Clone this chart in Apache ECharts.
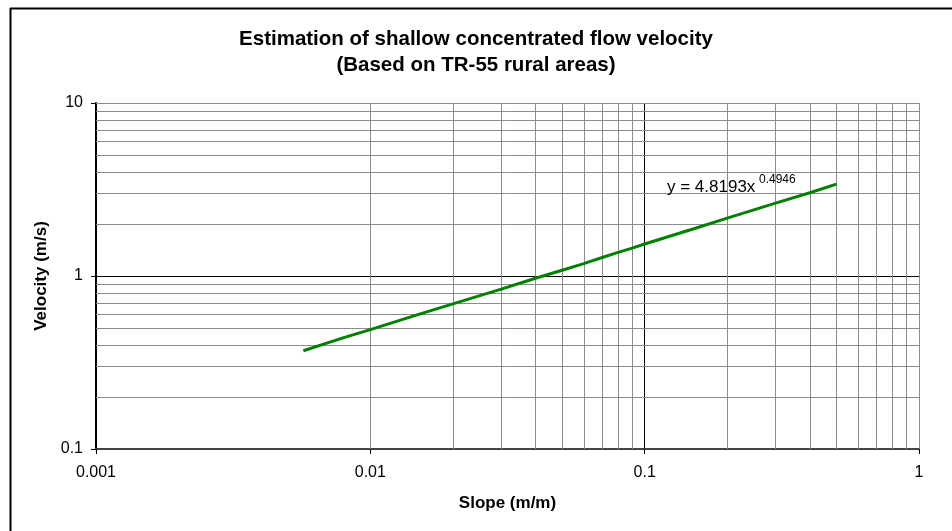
<!DOCTYPE html>
<html>
<head>
<meta charset="utf-8">
<script src="https://cdn.jsdelivr.net/npm/echarts@6/dist/echarts.min.js"></script>
<style>html,body{margin:0;padding:0;background:#fff}#c{width:952px;height:531px}</style>
</head>
<body>
<div id="c"></div>
<script>
var slopeValues = [0.0057, 0.008, 0.01, 0.015, 0.02, 0.03, 0.04, 0.05, 0.06, 0.07, 0.08, 0.09, 0.1, 0.15, 0.2, 0.3, 0.4, 0.5];
var velocityValues = [0.37, 0.44, 0.49, 0.60, 0.69, 0.84, 0.97, 1.08, 1.18, 1.28, 1.37, 1.45, 1.53, 1.87, 2.16, 2.64, 3.03, 3.40];
var xTickLabels = ['0.001', '0.01', '0.1', '1'];
var yTickLabels = ['0.1', '1', '10'];
var xMinorGrid = [0.002,0.003,0.004,0.005,0.006,0.007,0.008,0.009,0.02,0.03,0.04,0.05,0.06,0.07,0.08,0.09,0.2,0.3,0.4,0.5,0.6,0.7,0.8,0.9];
var yMinorGrid = [0.2,0.3,0.4,0.5,0.6,0.7,0.8,0.9,2,3,4,5,6,7,8,9];
var titleLines = ['Estimation of shallow concentrated flow velocity', '(Based on TR-55 rural areas)'];
var xAxisName = 'Slope (m/m)';
var yAxisName = 'Velocity (m/s)';
var equationMain = 'y = 4.8193x';
var equationExp = '0.4946';

var FONT = '"Liberation Sans", Arial, sans-serif';
var chart = echarts.init(document.getElementById('c'), null, {renderer: 'canvas'});

var minorData = [];
xMinorGrid.forEach(function (v) { minorData.push({xAxis: v}); });
yMinorGrid.forEach(function (v) { minorData.push({yAxis: v}); });
minorData.push({xAxis: 1});
minorData.push({yAxis: 10});

var option = {
  backgroundColor: '#fff',
  animation: false,
  textStyle: {fontFamily: FONT},
  grid: {left: 96, right: 33, top: 103, bottom: 82, containLabel: false},
  xAxis: {
    type: 'log', logBase: 10, min: 0.001, max: 1, interval: 1,
    axisLine: {show: true, onZero: false, lineStyle: {color: '#444', width: 2}},
    axisTick: {show: true, inside: false, length: 5, lineStyle: {color: '#000'}},
    axisLabel: {color: '#000', fontSize: 16, fontFamily: FONT, margin: 16,
      formatter: function (v) { return xTickLabels[Math.round(Math.log10(v)) + 3]; }},
    splitLine: {show: true, lineStyle: {color: ['#000', '#000', '#000', '#888'], width: 1}},
    minorTick: {show: false}, minorSplitLine: {show: false},
    name: xAxisName, nameLocation: 'middle', nameGap: 46,
    nameTextStyle: {color: '#000', fontSize: 17, fontWeight: 'bold', fontFamily: FONT}
  },
  yAxis: {
    type: 'log', logBase: 10, min: 0.1, max: 10, interval: 1,
    axisLine: {show: true, onZero: false, lineStyle: {color: '#000', width: 2}},
    axisTick: {show: true, inside: false, length: 5, lineStyle: {color: '#000'}},
    axisLabel: {color: '#000', fontSize: 16, fontFamily: FONT, margin: 13,
      formatter: function (v) { return yTickLabels[Math.round(Math.log10(v)) + 1]; }},
    splitLine: {show: true, lineStyle: {color: ['#444', '#000', '#888'], width: 1}},
    name: yAxisName, nameLocation: 'middle', nameGap: 45, nameRotate: 90,
    nameTextStyle: {color: '#000', fontSize: 17, fontWeight: 'bold', fontFamily: FONT}
  },
  series: [
    {
      type: 'line', data: [], silent: true,
      markLine: {
        silent: true, symbol: ['none', 'none'], animation: false,
        label: {show: false},
        lineStyle: {color: '#8c8c8c', width: 1, type: 'solid'},
        emphasis: {disabled: true},
        data: minorData
      }
    },
    {
      type: 'line',
      data: slopeValues.map(function (s, i) { return [s, velocityValues[i]]; }),
      showSymbol: false, symbol: 'none', smooth: false,
      lineStyle: {color: '#008000', width: 3},
      itemStyle: {color: '#008000'},
      z: 5
    }
  ],
  graphic: [
    {type: 'line', shape: {x1: 10, y1: 8.5, x2: 952, y2: 8.5}, style: {stroke: '#000', lineWidth: 2}},
    {type: 'line', shape: {x1: 10.5, y1: 8, x2: 10.5, y2: 531}, style: {stroke: '#000', lineWidth: 2}},
    {type: 'text', x: 476, y: 39, style: {text: titleLines[0], textAlign: 'center', textVerticalAlign: 'middle', font: 'bold 20.5px ' + FONT, fill: '#000'}},
    {type: 'text', x: 476, y: 65, style: {text: titleLines[1], textAlign: 'center', textVerticalAlign: 'middle', font: 'bold 20.5px ' + FONT, fill: '#000'}},
    {type: 'text', x: 667, y: 187, z: 10, style: {text: equationMain, textAlign: 'left', textVerticalAlign: 'middle', font: '17px ' + FONT, fill: '#000'}},
    {type: 'text', x: 759, y: 180, z: 10, style: {text: equationExp, textAlign: 'left', textVerticalAlign: 'middle', font: '12px ' + FONT, fill: '#000'}}
  ]
};
chart.setOption(option);
</script>
</body>
</html>
